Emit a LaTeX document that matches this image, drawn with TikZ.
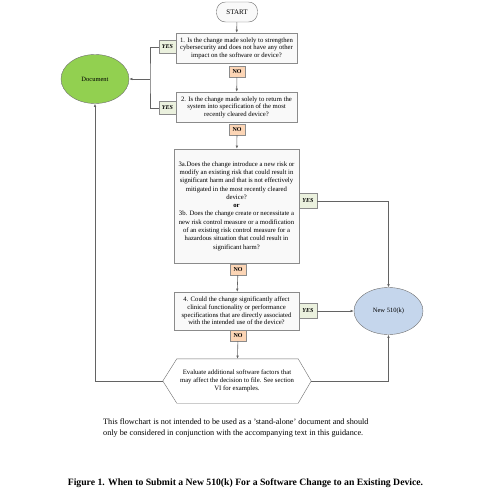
\documentclass[tikz,border=0pt]{standalone}
\usepackage{fontspec}
\setmainfont{Liberation Serif}
\usetikzlibrary{arrows.meta,shadows}
\definecolor{docgreen}{HTML}{92D050}
\definecolor{newblue}{HTML}{C5D6EC}
\definecolor{yesgreen}{HTML}{EBF1DE}
\definecolor{noorange}{HTML}{FCD5B5}
\definecolor{edgegray}{HTML}{6E6E6E}
\tikzset{
  question/.style={draw=edgegray!80,fill=gray!5,line width=0.4pt,align=center,
    inner sep=1pt,font=\fontsize{6.7}{7.6}\selectfont,
    drop shadow={shadow xshift=1.2pt,shadow yshift=-1.2pt,fill=gray!35}},
  yesbox/.style={draw=edgegray!80,fill=yesgreen,line width=0.4pt,inner sep=0pt,
    font=\fontsize{6}{6}\selectfont\bfseries\itshape},
  nobox/.style={draw=edgegray!80,fill=noorange,line width=0.4pt,inner sep=0pt,
    font=\fontsize{6}{6}\selectfont\bfseries,minimum width=16pt,minimum height=11pt},
  outcome/.style={ellipse,draw=edgegray,line width=0.4pt,font=\fontsize{6.5}{7}\selectfont},
  flow/.style={draw=edgegray!90!black,line width=0.6pt},
  arr/.style={flow,-{Latex[length=3.2pt,width=2.6pt]}}
}
\usetikzlibrary{shapes.geometric}
\begin{document}
\begin{tikzpicture}[x=1pt,y=-1pt]
	\useasboundingbox (0,0) rectangle (480,499);
	%\draw[red] (0,0) rectangle (480,499);
	\node [draw=edgegray,fill=gray!5,rounded corners=9pt,minimum width=41pt,minimum height=20pt,
	  font=\fontsize{7}{7}\selectfont,inner sep=0pt] (start) at (237,12) {START};
	\node [question,minimum width=121pt,minimum height=30pt] (q1) at (236.5,48)
	  {1. Is the change made solely to strengthen\\cybersecurity and does not have any other\\impact on the software or device?};
	\node [nobox] (no1) at (237,71.5) {NO};
	\node [question,minimum width=121pt,minimum height=30pt] (q2) at (236.5,107)
	  {2. Is the change made solely to return the\\system into specification of the most\\recently cleared device?};
	\node [nobox] (no2) at (237,129.5) {NO};
	\node [question,minimum width=125pt,minimum height=114pt,font=\fontsize{6.7}{8.3}\selectfont] (q3) at (236.5,206)
	  {3a.Does the change introduce a new risk or\\modify an existing risk that could result in\\significant harm and that is not effectively\\mitigated in the most recently cleared\\device?\\\textbf{or}\\3b. Does the change create or necessitate a\\new risk control measure or a modification\\of an existing risk control measure for a\\hazardous situation that could result in\\significant harm?};
	\node [nobox] (no3) at (238,269.5) {NO};
	\node [question,minimum width=125pt,minimum height=38pt] (q4) at (236.5,311)
	  {4. Could the change significantly affect\\clinical functionality or performance\\specifications that are directly associated\\with the intended use of the device?};
	\node [nobox] (no4) at (238,335.5) {NO};
	\node [yesbox,minimum width=17pt,minimum height=13pt] (yes1) at (167.5,47) {YES};
	\node [yesbox,minimum width=17pt,minimum height=13pt] (yes2) at (167.5,108) {YES};
	\node [yesbox,minimum width=18pt,minimum height=15pt] (yes3) at (308,201) {YES};
	\node [yesbox,minimum width=18pt,minimum height=15pt] (yes4) at (308,311) {YES};
	\node [outcome,fill=docgreen,minimum width=68pt,minimum height=49pt,inner sep=0pt] (doc) at (95,79) {Document};
	\node [outcome,fill=newblue,minimum width=69pt,minimum height=47pt,inner sep=0pt] (new) at (388.5,311) {New 510(k)};
	\node [minimum width=148pt,minimum height=44pt,inner sep=0pt] (hex) at (237,381) {};
	\draw [draw=edgegray,fill=white,line width=0.4pt] ([xshift=14pt]hex.north west) -- ([xshift=-13pt]hex.north east) -- (hex.east)
	  -- ([xshift=-13pt]hex.south east) -- ([xshift=14pt]hex.south west) -- (hex.west) -- cycle;
	\node [align=center,inner sep=0pt,font=\fontsize{6.7}{8}\selectfont] (hextext) at (hex)
	  {Evaluate additional software factors that\\may affect the decision to file. See section\\VI for examples.};
	\coordinate (bus) at (150,79);
	% main column
	\draw [arr] (start) -- (q1);
	\draw [arr] (no1) -- (q2);
	\draw [arr] (no2) -- (q3);
	\draw [arr] (no3) -- (q4);
	\draw [arr] (no4) -- (hex);
	% yes branches
	\draw [flow] (yes1.west) -| (bus) |- (yes2.west);
	\draw [arr] (bus) -- (doc.east);
	\draw [arr] (yes3.east) -| (new.north);
	\draw [arr] (yes4.east) -- (new.west);
	\draw [arr] (hex.west) -| (doc.south);
	\draw [arr] (hex.east) -| (new.south);
	\node [anchor=west,align=left,inner sep=0pt,font=\fontsize{8.2}{10.2}\selectfont] (note) at (103,428)
	  {This flowchart is not intended to be used as a 'stand-alone' document and should\\only be considered in conjunction with the accompanying text in this guidance.};
	\node [inner sep=0pt,font=\fontsize{9.7}{10}\selectfont\bfseries] (caption) at (245.5,483)
	  {Figure 1. When to Submit a New 510(k) For a Software Change to an Existing Device.};
\end{tikzpicture}
\end{document}
